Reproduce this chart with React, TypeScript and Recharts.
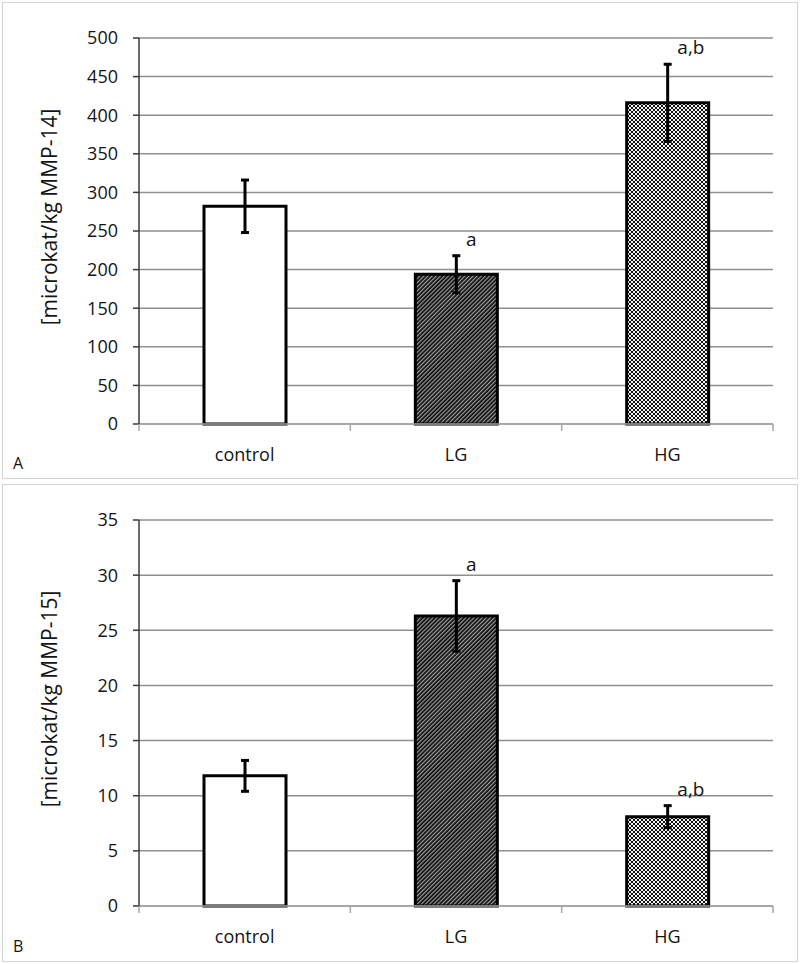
import React from 'react';
import { BarChart, Bar, XAxis, YAxis, CartesianGrid, ErrorBar, Cell, ReferenceDot } from 'recharts';

const categories = ['control', 'LG', 'HG'];

const mmp14Values = [282, 194, 416];
const mmp14Errors = [34, 24, 50];
const mmp14Marks = ['', 'a', 'a,b'];
const mmp14Ticks = [0, 50, 100, 150, 200, 250, 300, 350, 400, 450, 500];

const mmp15Values = [11.8, 26.3, 8.1];
const mmp15Errors = [1.4, 3.2, 1.0];
const mmp15Marks = ['', 'a', 'a,b'];
const mmp15Ticks = [0, 5, 10, 15, 20, 25, 30, 35];

const FONT = '"Open Sans", "Noto Sans", sans-serif';
const CHART_W = 794;
const MARGIN_LEFT = 76;
const YAXIS_W = 60;
const MARGIN_RIGHT = 24;
const PLOT_W = CHART_W - MARGIN_LEFT - YAXIS_W - MARGIN_RIGHT;
const BAND = PLOT_W / categories.length;

type PanelProps = {
  id: string;
  letter: string;
  top: number;
  height: number;
  yLabel: string;
  values: number[];
  errors: number[];
  marks: string[];
  ticks: number[];
};

function Panel({ id, letter, top, height, yLabel, values, errors, marks, ticks }: PanelProps) {
  const data = categories.map((c, i) => ({ name: c, value: values[i], err: errors[i] }));
  const fills = ['#ffffff', `url(#hatch-${id})`, `url(#checker-${id})`];
  const bottomMargin = height - 421 - 30;

  const XTick = (props: any) => {
    const { x, y, payload, index } = props;
    const axisY = y - 24;
    return (
      <g>
        <line x1={x - BAND / 2} y1={axisY} x2={x - BAND / 2} y2={axisY + 7} stroke="#a6a6a6" strokeWidth={1.5} />
        {index === categories.length - 1 && (
          <line x1={x + BAND / 2} y1={axisY} x2={x + BAND / 2} y2={axisY + 7} stroke="#a6a6a6" strokeWidth={1.5} />
        )}
        <text x={x} y={y} dy="0.71em" textAnchor="middle" fontSize={18} fontFamily={FONT} fill="#141414">
          {payload.value}
        </text>
      </g>
    );
  };

  return (
    <div
      style={{
        position: 'absolute',
        left: 2,
        top,
        width: CHART_W,
        height,
        border: '1px solid #d4d4d4',
        background: '#fff',
      }}
    >
      <BarChart
        width={CHART_W}
        height={height}
        data={data}
        margin={{ top: 35, right: MARGIN_RIGHT, left: MARGIN_LEFT, bottom: bottomMargin }}
        barCategoryGap={0}
      >
        <defs>
          <pattern id={`hatch-${id}`} patternUnits="userSpaceOnUse" width="2.9" height="2.9" patternTransform="rotate(45)">
            <rect x="0" y="0" width="2.9" height="2.9" fill="#0a0a0a" />
            <rect x="0" y="0" width="1.2" height="2.9" fill="#a0a0a0" />
          </pattern>
          <pattern id={`checker-${id}`} patternUnits="userSpaceOnUse" width="4" height="4">
            <rect x="0" y="0" width="4" height="4" fill="#f4f4f4" />
            <rect x="0" y="0" width="2" height="2" fill="#111" />
            <rect x="2" y="2" width="2" height="2" fill="#111" />
          </pattern>
        </defs>
        <CartesianGrid vertical={false} stroke="#8f8f8f" strokeWidth={1.5} />
        <XAxis
          dataKey="name"
          height={30}
          tickLine={false}
          tickSize={6}
          tickMargin={18}
          axisLine={{ stroke: '#a6a6a6', strokeWidth: 1.5 }}
          tick={<XTick />}
          interval={0}
        />
        <YAxis
          width={YAXIS_W}
          domain={[ticks[0], ticks[ticks.length - 1]]}
          ticks={ticks}
          interval={0}
          tickSize={6}
          tickMargin={15}
          axisLine={{ stroke: '#3a3a3a', strokeWidth: 1.5 }}
          tickLine={{ stroke: '#3a3a3a', strokeWidth: 1.5 }}
          tick={{ fontSize: 18, fontFamily: FONT, fill: '#141414' }}
          label={{
            content: (p: any) => {
              const vb = p.viewBox || { x: MARGIN_LEFT, y: 35, width: YAXIS_W, height: 386 };
              const cx = 46;
              const cy = vb.y + vb.height / 2 - 14;
              return (
                <text
                  x={cx}
                  y={cy}
                  transform={`rotate(-90, ${cx}, ${cy})`}
                  textAnchor="middle"
                  dominantBaseline="central"
                  fontSize={21}
                  fontFamily={FONT}
                  fill="#141414"
                >
                  {yLabel}
                </text>
              );
            },
          }}
        />
        <Bar dataKey="value" barSize={82} stroke="#000" strokeWidth={3} isAnimationActive={false}>
          {data.map((d, i) => (
            <Cell key={d.name} fill={fills[i]} />
          ))}
          <ErrorBar dataKey="err" width={4} strokeWidth={3} stroke="#000" direction="y" />
        </Bar>
        {categories.map((c, i) =>
          marks[i] ? (
            <ReferenceDot
              key={c}
              x={c}
              y={values[i] + errors[i]}
              r={0}
              stroke="none"
              fill="none"
              label={{
                content: (p: any) => {
                  const vb = p.viewBox;
                  return (
                    <text x={vb.x + 10} y={vb.y - 10} textAnchor="start" fontSize={19} fontFamily={FONT} fill="#141414">
                      {marks[i]}
                    </text>
                  );
                },
              }}
            />
          ) : null
        )}
      </BarChart>
      <div
        style={{
          position: 'absolute',
          left: 10,
          top: height - 23,
          fontSize: 16,
          lineHeight: '16px',
          fontFamily: FONT,
          color: '#141414',
        }}
      >
        {letter}
      </div>
    </div>
  );
}

export default function App() {
  return (
    <div style={{ position: 'absolute', left: 0, top: 0, width: 800, height: 964, background: '#fff' }}>
      <Panel
        id="a"
        letter="A"
        top={2}
        height={475}
        yLabel="[microkat/kg MMP-14]"
        values={mmp14Values}
        errors={mmp14Errors}
        marks={mmp14Marks}
        ticks={mmp14Ticks}
      />
      <Panel
        id="b"
        letter="B"
        top={484}
        height={476}
        yLabel="[microkat/kg MMP-15]"
        values={mmp15Values}
        errors={mmp15Errors}
        marks={mmp15Marks}
        ticks={mmp15Ticks}
      />
    </div>
  );
}
